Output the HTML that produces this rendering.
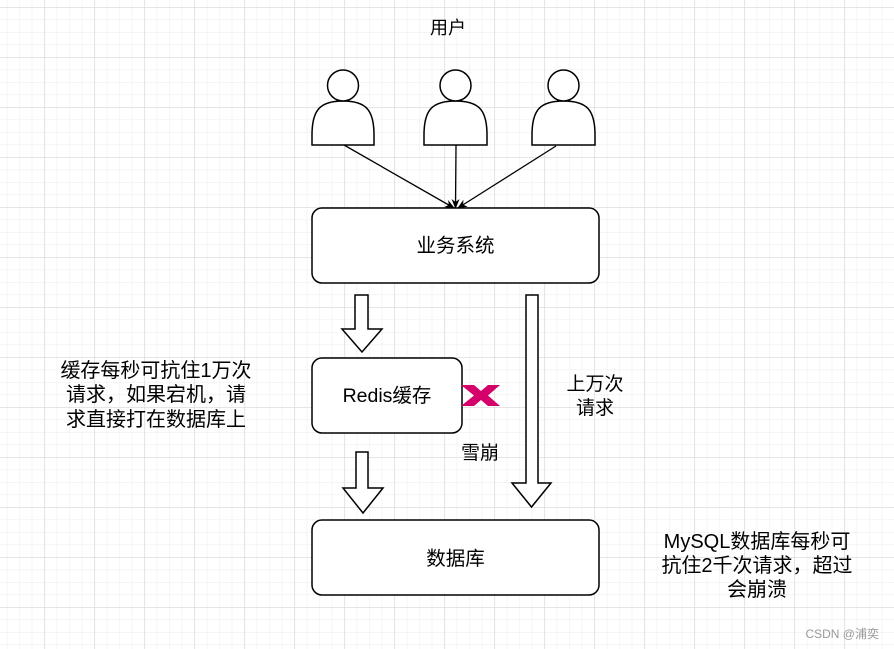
<!DOCTYPE html>
<html><head><meta charset="utf-8"><style>
html,body{margin:0;padding:0;width:894px;height:649px;overflow:hidden;background:#fff}
svg{display:block}
text{font-family:"Liberation Sans","Noto Sans CJK SC",sans-serif;fill:#000}
</style></head><body>
<svg width="894" height="649" viewBox="0 0 894 649" xmlns="http://www.w3.org/2000/svg">
<defs>
<pattern id="minor" x="6.7" y="7" width="12.5" height="12.5" patternUnits="userSpaceOnUse">
<path d="M0 0H12.5M0 0V12.5" stroke="#efefef" stroke-width="1.2" fill="none"/>
</pattern>
<pattern id="major" x="44.3" y="7" width="50" height="50" patternUnits="userSpaceOnUse">
<path d="M0 0H50M0 0V50" stroke="#d8d8d8" stroke-width="1.2" fill="none"/>
</pattern>
<marker id="ah" markerWidth="10" markerHeight="10" refX="9" refY="5" orient="auto" markerUnits="userSpaceOnUse">
<path d="M0 1 L10 5 L0 9 L3 5 Z" fill="#000"/>
</marker>
</defs>
<rect width="894" height="649" fill="url(#minor)"/>
<rect width="894" height="649" fill="url(#major)"/>

<text x="448" y="34" font-size="18" text-anchor="middle">用户</text>

<g fill="#fff" stroke="#000" stroke-width="1.5">
<path d="M312 145 L312 135 C312 110 320 101 343 101 C366 101 374 110 374 135 L374 145 Z"/>
<circle cx="343" cy="85.5" r="15.5"/>
<path d="M424 145 L424 135 C424 110 432 101 455.5 101 C479 101 487 110 487 135 L487 145 Z"/>
<circle cx="455.5" cy="85.5" r="15.5"/>
<path d="M532 145 L532 135 C532 110 540 101 563.5 101 C587 101 595 110 595 135 L595 145 Z"/>
<circle cx="563.5" cy="85.5" r="15.5"/>
</g>

<g stroke="#000" stroke-width="1.3">
<line x1="344" y1="145" x2="454" y2="208" marker-end="url(#ah)"/>
<line x1="456" y1="145" x2="455.5" y2="208" marker-end="url(#ah)"/>
<line x1="556" y1="146" x2="458" y2="208" marker-end="url(#ah)"/>
</g>

<g fill="#fff" stroke="#000" stroke-width="1.5">
<rect x="312" y="208" width="287" height="75" rx="10"/>
<rect x="312" y="358" width="150" height="75" rx="10"/>
<rect x="312" y="520" width="287" height="75" rx="10"/>
<path d="M355 295 H368 V329 H382 L362 352 L342 329 H355 Z"/>
<path d="M356 452 H368 V488 H383 L363 513 L343 488 H356 Z"/>
<path d="M526 295 H538 V483 H551 L531.5 507 L512 483 H526 Z"/>
</g>

<polygon points="461,385 474,385 481,391 488,385 500,385 488,395.5 500,406 488,406 481,400 474,406 461,406 474,395.5" fill="#d6006b"/>

<text x="455.5" y="252" font-size="19.5" text-anchor="middle">业务系统</text>
<text x="387" y="402" font-size="19.5" text-anchor="middle">Redis缓存</text>
<text x="455.5" y="565" font-size="19.5" text-anchor="middle">数据库</text>

<g font-size="20" text-anchor="middle">
<text x="156" y="377">缓存每秒可抗住1万次</text>
<text x="156" y="401">请求，如果宕机，请</text>
<text x="156" y="426">求直接打在数据库上</text>
<text x="595" y="390" font-size="19">上万次</text>
<text x="595" y="414" font-size="19">请求</text>
<text x="480" y="459" font-size="19">雪崩</text>
<text x="757" y="548">MySQL数据库每秒可</text>
<text x="757" y="572">抗住2千次请求，超过</text>
<text x="757" y="596">会崩溃</text>
</g>
<text x="879" y="638" font-size="12" text-anchor="end" style="fill:#999">CSDN @浦奕</text>
</svg>
</body></html>
